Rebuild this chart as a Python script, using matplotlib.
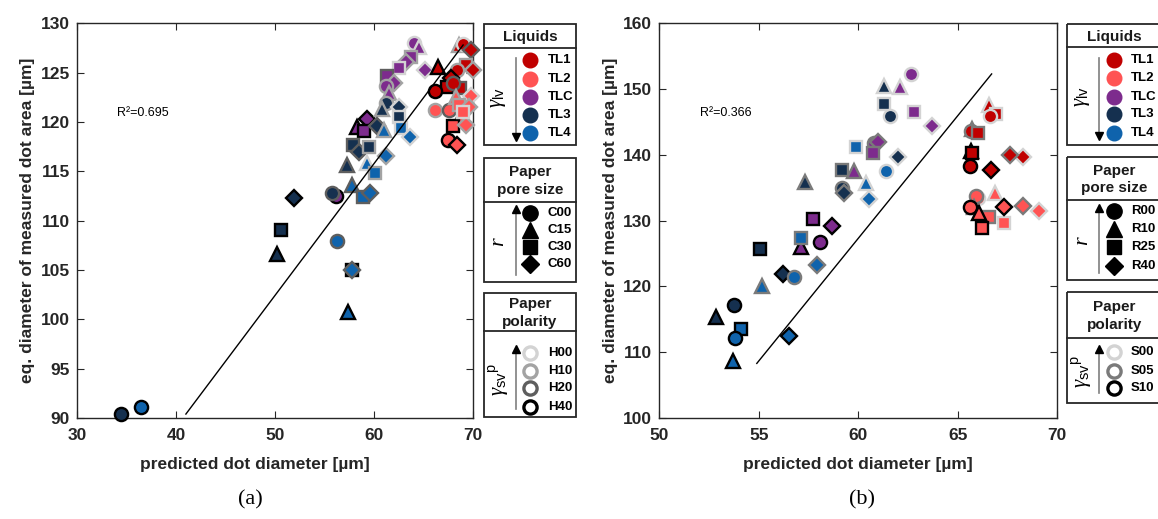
import matplotlib
matplotlib.use('Agg')
import matplotlib.pyplot as plt
from matplotlib.patches import Rectangle

plt.rcParams['font.family'] = ['Liberation Sans', 'DejaVu Sans']
plt.rcParams['mathtext.fontset'] = 'custom'
plt.rcParams['mathtext.rm'] = 'Liberation Serif'
plt.rcParams['mathtext.it'] = 'Liberation Serif:italic'
plt.rcParams['mathtext.sf'] = 'Liberation Sans'

# ---------------- data ----------------
liquid_names = ['TL1', 'TL2', 'TLC', 'TL3', 'TL4']
liquid_colors = ['#C00000', '#FF5353', '#7D2B8D', '#15304F', '#0F63AC']
marker_shapes = ['o', '^', 's', 'D']
marker_sizes = [9.5, 10.5, 8.5, 8]

a_pore_names = ['C00', 'C15', 'C30', 'C60']
a_pol_names = ['H00', 'H10', 'H20', 'H40']
a_pol_colors = ['#D3D3D3', '#A3A3A3', '#5E5E5E', '#000000']
b_pore_names = ['R00', 'R10', 'R25', 'R40']
b_pol_names = ['S00', 'S05', 'S10']
b_pol_colors = ['#D3D3D3', '#7A7A7A', '#000000']

a_xticks = [30, 40, 50, 60, 70]
a_yticks = [90, 95, 100, 105, 110, 115, 120, 125, 130]
b_xticks = [50, 55, 60, 65, 70]
b_yticks = [100, 110, 120, 130, 140, 150, 160]

# panel (a)
a_x = [64.0, 64.5, 63.7, 63.2, 65.2, 62.5, 61.3, 62.0, 61.2, 61.5, 59.3, 58.3, 59.0, 56.2,
       61.2, 60.8, 62.5, 62.5, 60.3, 57.9, 58.5, 59.5, 57.3, 55.8, 51.9, 50.6, 50.2, 34.4,
       61.0, 62.7, 63.6, 61.2, 59.3, 60.1, 57.8, 58.9, 59.6, 56.3, 57.8, 57.8, 57.4, 36.5,
       68.6, 69.0, 69.8, 69.3, 70.0, 68.4, 66.5, 67.8, 67.4, 68.7, 66.2, 68.0,
       66.2, 67.6, 68.3, 69.8, 68.6, 69.6, 68.8, 68.0, 69.3, 67.5, 68.4, 69.0]
a_y = [128.0, 127.6, 126.6, 126.1, 125.3, 125.5, 124.7, 124.0, 123.6, 122.9, 120.3, 119.5, 119.1, 112.5,
       121.9, 121.3, 121.5, 120.5, 119.6, 117.7, 117.0, 117.5, 115.6, 112.8, 112.3, 109.1, 106.6, 90.4,
       119.2, 119.4, 118.5, 116.6, 115.8, 114.8, 113.6, 112.4, 112.8, 107.9, 105.0, 105.0, 100.7, 91.1,
       127.8, 127.9, 127.3, 125.8, 125.3, 125.3, 125.6, 124.5, 123.5, 123.4, 123.1, 124.0,
       121.2, 121.2, 122.5, 122.6, 121.7, 121.5, 120.6, 119.6, 119.7, 118.2, 117.7, 121.0]
a_liq = (['TLC'] * 14 + ['TL3'] * 14 + ['TL4'] * 14 + ['TL1'] * 12 + ['TL2'] * 12)
a_pore = ['C00', 'C15', 'C30', 'C60', 'C60', 'C30', 'C30', 'C60', 'C00', 'C15', 'C60', 'C15', 'C30', 'C00',
          'C00', 'C15', 'C60', 'C30', 'C60', 'C30', 'C60', 'C30', 'C15', 'C00', 'C60', 'C30', 'C15', 'C00',
          'C15', 'C30', 'C60', 'C60', 'C15', 'C30', 'C15', 'C30', 'C60', 'C00', 'C30', 'C60', 'C15', 'C00',
          'C15', 'C00', 'C60', 'C30', 'C60', 'C00', 'C15', 'C60', 'C30', 'C30', 'C00', 'C00',
          'C00', 'C00', 'C15', 'C60', 'C30', 'C60', 'C15', 'C30', 'C60', 'C00', 'C60', 'C30']
a_pol = ['H00', 'H00', 'H10', 'H10', 'H00', 'H00', 'H20', 'H10', 'H10', 'H10', 'H40', 'H40', 'H40', 'H40',
         'H10', 'H10', 'H00', 'H00', 'H20', 'H20', 'H20', 'H10', 'H20', 'H20', 'H40', 'H40', 'H40', 'H40',
         'H10', 'H00', 'H00', 'H10', 'H00', 'H10', 'H20', 'H20', 'H20', 'H20', 'H40', 'H20', 'H40', 'H40',
         'H10', 'H00', 'H20', 'H10', 'H10', 'H10', 'H40', 'H40', 'H40', 'H20', 'H40', 'H20',
         'H10', 'H20', 'H10', 'H00', 'H10', 'H10', 'H20', 'H40', 'H10', 'H40', 'H40', 'H00']
a_fit_x = [41.0, 69.0]
a_fit_y = [90.4, 127.8]
a_r2 = 'R²=0.695'

# panel (b)
b_x = [62.65, 62.1, 62.8, 63.7, 60.8, 61.0, 60.75, 59.8, 57.7, 58.7, 58.1, 57.1,
       61.3, 61.3, 61.6, 61.97, 59.2, 57.3, 59.2, 59.3, 55.05, 56.2, 53.75, 52.85,
       59.9, 61.4, 60.4, 60.55, 57.1, 57.9, 56.75, 55.15, 54.1, 53.8, 56.5, 53.7,
       66.55, 66.9, 66.6, 68.3, 65.7, 65.65, 66.0, 67.6, 65.65, 65.7, 65.6, 66.65,
       66.85, 67.3, 69.1, 66.0, 65.9, 65.8, 66.55, 68.3, 65.6, 66.05, 66.2, 67.3]
b_y = [152.3, 150.3, 146.5, 144.4, 141.8, 142.0, 140.25, 137.6, 130.2, 129.2, 126.7, 126.05,
       150.5, 147.8, 145.9, 139.6, 137.7, 135.8, 134.9, 134.2, 125.65, 121.9, 117.2, 115.4,
       141.25, 137.55, 135.7, 133.25, 127.4, 123.3, 121.5, 120.1, 113.55, 112.1, 112.5, 108.6,
       147.6, 146.2, 145.9, 139.6, 144.0, 143.6, 143.3, 140.0, 140.6, 140.3, 138.3, 137.7,
       134.25, 129.6, 131.4, 133.5, 133.75, 132.0, 130.6, 132.2, 132.0, 131.1, 128.9, 132.1]
b_liq = (['TLC'] * 12 + ['TL3'] * 12 + ['TL4'] * 12 + ['TL1'] * 12 + ['TL2'] * 12)
b_pore = ['R00', 'R10', 'R25', 'R40', 'R00', 'R40', 'R25', 'R10', 'R25', 'R40', 'R00', 'R10',
          'R10', 'R25', 'R00', 'R40', 'R25', 'R10', 'R00', 'R40', 'R25', 'R40', 'R00', 'R10',
          'R25', 'R00', 'R10', 'R40', 'R25', 'R40', 'R00', 'R10', 'R25', 'R00', 'R40', 'R10',
          'R10', 'R25', 'R00', 'R40', 'R10', 'R00', 'R25', 'R40', 'R10', 'R25', 'R00', 'R40',
          'R10', 'R25', 'R40', 'R00', 'R00', 'R10', 'R25', 'R40', 'R00', 'R10', 'R25', 'R40']
b_pol = ['S00', 'S00', 'S00', 'S00', 'S05', 'S05', 'S05', 'S05', 'S10', 'S10', 'S10', 'S10',
         'S00', 'S00', 'S00', 'S00', 'S05', 'S05', 'S05', 'S05', 'S10', 'S10', 'S10', 'S10',
         'S00', 'S00', 'S00', 'S00', 'S05', 'S05', 'S05', 'S05', 'S10', 'S10', 'S10', 'S10',
         'S00', 'S00', 'S00', 'S00', 'S05', 'S05', 'S05', 'S05', 'S10', 'S10', 'S10', 'S10',
         'S00', 'S00', 'S00', 'S00', 'S05', 'S05', 'S05', 'S05', 'S10', 'S10', 'S10', 'S10']
b_fit_x = [54.9, 66.7]
b_fit_y = [108.3, 152.3]
b_r2 = 'R²=0.366'

# ---------------- figure ----------------
W, H = 1158, 519
fig = plt.figure(figsize=(W / 100, H / 100), dpi=100)


def px_axes(x0, y0, x1, y1):
    return fig.add_axes([x0 / W, 1 - y1 / H, (x1 - x0) / W, (y1 - y0) / H])


def panel(ax, xs, ys, liqs, pores, pols, pore_names, pol_names, pol_colors,
          fit_x, fit_y, r2, r2pos, xlim, ylim, xticks, yticks, xlab_center):
    for x, y, l, p, q in zip(xs, ys, liqs, pores, pols):
        li = liquid_names.index(l)
        pi = pore_names.index(p)
        qi = pol_names.index(q)
        ax.plot(x, y, marker=marker_shapes[pi], ms=marker_sizes[pi], mfc=liquid_colors[li],
                mec=pol_colors[qi], mew=1.7, ls='none', zorder=3, clip_on=False)
    ax.plot(fit_x, fit_y, color='black', lw=1.0, zorder=4)
    ax.text(r2pos[0], r2pos[1], r2, fontsize=9, va='center', ha='left')
    ax.set_xlim(xlim)
    ax.set_ylim(ylim)
    ax.set_xticks(xticks, labels=[str(t) for t in xticks], fontweight='bold')
    ax.set_yticks(yticks, labels=[str(t) for t in yticks], fontweight='bold')
    ax.tick_params(direction='in', top=True, right=True, length=5, width=0.8,
                   labelsize=12.5, color='#262626', labelcolor='#262626')
    ax.tick_params(axis='x', pad=7)
    ax.tick_params(axis='y', pad=5)
    for s in ax.spines.values():
        s.set_color('#262626')
        s.set_linewidth(1.0)
    ax.set_xlabel('predicted dot diameter [µm]', fontsize=12.5, fontweight='bold',
                  color='#262626')
    ax.xaxis.set_label_coords(xlab_center, -0.118, transform=ax.transAxes)
    ax.xaxis.label.set_va('center')
    ax.set_ylabel('eq. diameter of measured dot area [µm]', fontsize=12.5,
                  fontweight='bold', color='#262626', labelpad=4)


axA = px_axes(77, 23.3, 473, 418)
panel(axA, a_x, a_y, a_liq, a_pore, a_pol, a_pore_names, a_pol_names, a_pol_colors,
      a_fit_x, a_fit_y, a_r2, (34.0, 120.9), (30, 70), (90, 130), a_xticks, a_yticks, 0.45)
axB = px_axes(659.3, 23.3, 1057.3, 418)
panel(axB, b_x, b_y, b_liq, b_pore, b_pol, b_pore_names, b_pol_names, b_pol_colors,
      b_fit_x, b_fit_y, b_r2, (52.04, 146.4), (50, 70), (100, 160), b_xticks, b_yticks, 0.5)

# ---------------- legend boxes (overlay in pixel coordinates) ----------------
ov = fig.add_axes([0, 0, 1, 1], zorder=10)
ov.set_xlim(0, W)
ov.set_ylim(H, 0)
ov.axis('off')


def box(x0, y0, x1, y1, yh, title):
    ov.add_patch(Rectangle((x0, y0), x1 - x0, y1 - y0, fill=False, lw=1.3, ec='#262626',
                           clip_on=False))
    ov.plot([x0, x1], [yh, yh], color='#262626', lw=1.3, clip_on=False)
    ov.text((x0 + x1) / 2, (y0 + yh) / 2 + 1, title, ha='center', va='center',
            fontsize=11, fontweight='bold', linespacing=1.3, color='#1a1a1a')


def arrow(x, ytail, yhead, up):
    ov.plot([x, x], [ytail, yhead], color='#7f7f7f', lw=1.2)
    ov.plot(x, yhead, marker='^' if up else 'v', ms=6, color='black', mec='black')


def legend_set(x0, x1, mx, lx, ax_, gx, boxes, pore_names, pol_names, pol_colors):
    # liquids
    (y0, y1, yh, rows, ar) = boxes[0]
    box(x0, y0, x1, y1, yh, 'Liquids')
    for name, col, ry in zip(liquid_names, liquid_colors, rows):
        ov.plot(mx, ry, 'o', ms=10.5, mfc=col, mec=col)
        ov.text(lx, ry, name, fontsize=9.5, fontweight='bold', va='center', ha='left')
    arrow(ax_, ar[0], ar[1], False)
    ov.text(gx, (ar[0] + ar[1]) / 2, r'$\gamma_{\mathsf{lv}}$', rotation=90, fontsize=15,
            ha='center', va='center')
    # pore size
    (y0, y1, yh, rows, ar) = boxes[1]
    box(x0, y0, x1, y1, yh, 'Paper\npore size')
    for name, m, ms, ry in zip(pore_names, marker_shapes, marker_sizes, rows):
        ov.plot(mx, ry, marker=m, ms=ms + 1.5, color='black', ls='none')
        ov.text(lx, ry, name, fontsize=9.5, fontweight='bold', va='center', ha='left')
    arrow(ax_, ar[0], ar[1], True)
    ov.text(gx, (ar[0] + ar[1]) / 2, r'$r$', rotation=90, fontsize=16,
            ha='center', va='center')
    # polarity
    (y0, y1, yh, rows, ar) = boxes[2]
    box(x0, y0, x1, y1, yh, 'Paper\npolarity')
    for name, col, ry in zip(pol_names, pol_colors, rows):
        ov.plot(mx, ry, 'o', ms=9.5, mfc='white', mec=col, mew=2.4)
        ov.text(lx, ry, name, fontsize=9.5, fontweight='bold', va='center', ha='left')
    arrow(ax_, ar[0], ar[1], True)
    ov.text(gx, (ar[0] + ar[1]) / 2, r'$\gamma_{\mathsf{sv}}{}^{\mathsf{p}}$', rotation=90,
            fontsize=15, ha='center', va='center')


legend_set(484, 576, 530, 548, 516, 499,
           [(24, 145, 48, [60, 79, 97, 115, 133], (58, 137)),
            (158, 282, 202, [213, 230, 247, 264], (275, 209)),
            (293, 417, 331, [353, 371, 388, 407], (409, 349))],
           a_pore_names, a_pol_names, a_pol_colors)
legend_set(1067, 1162, 1114, 1131, 1099, 1082,
           [(24, 145, 47, [60, 78, 97, 114, 133], (58, 136)),
            (157, 280, 200, [211, 229, 247, 266], (273, 208)),
            (292, 403, 338, [352, 371, 388], (393, 349))],
           b_pore_names, b_pol_names, b_pol_colors)

ov.text(250, 500, '(a)', fontsize=16, ha='center', va='center', family='Liberation Serif')
ov.text(862, 500, '(b)', fontsize=16, ha='center', va='center', family='Liberation Serif')

fig.savefig('out.png', dpi=100)
